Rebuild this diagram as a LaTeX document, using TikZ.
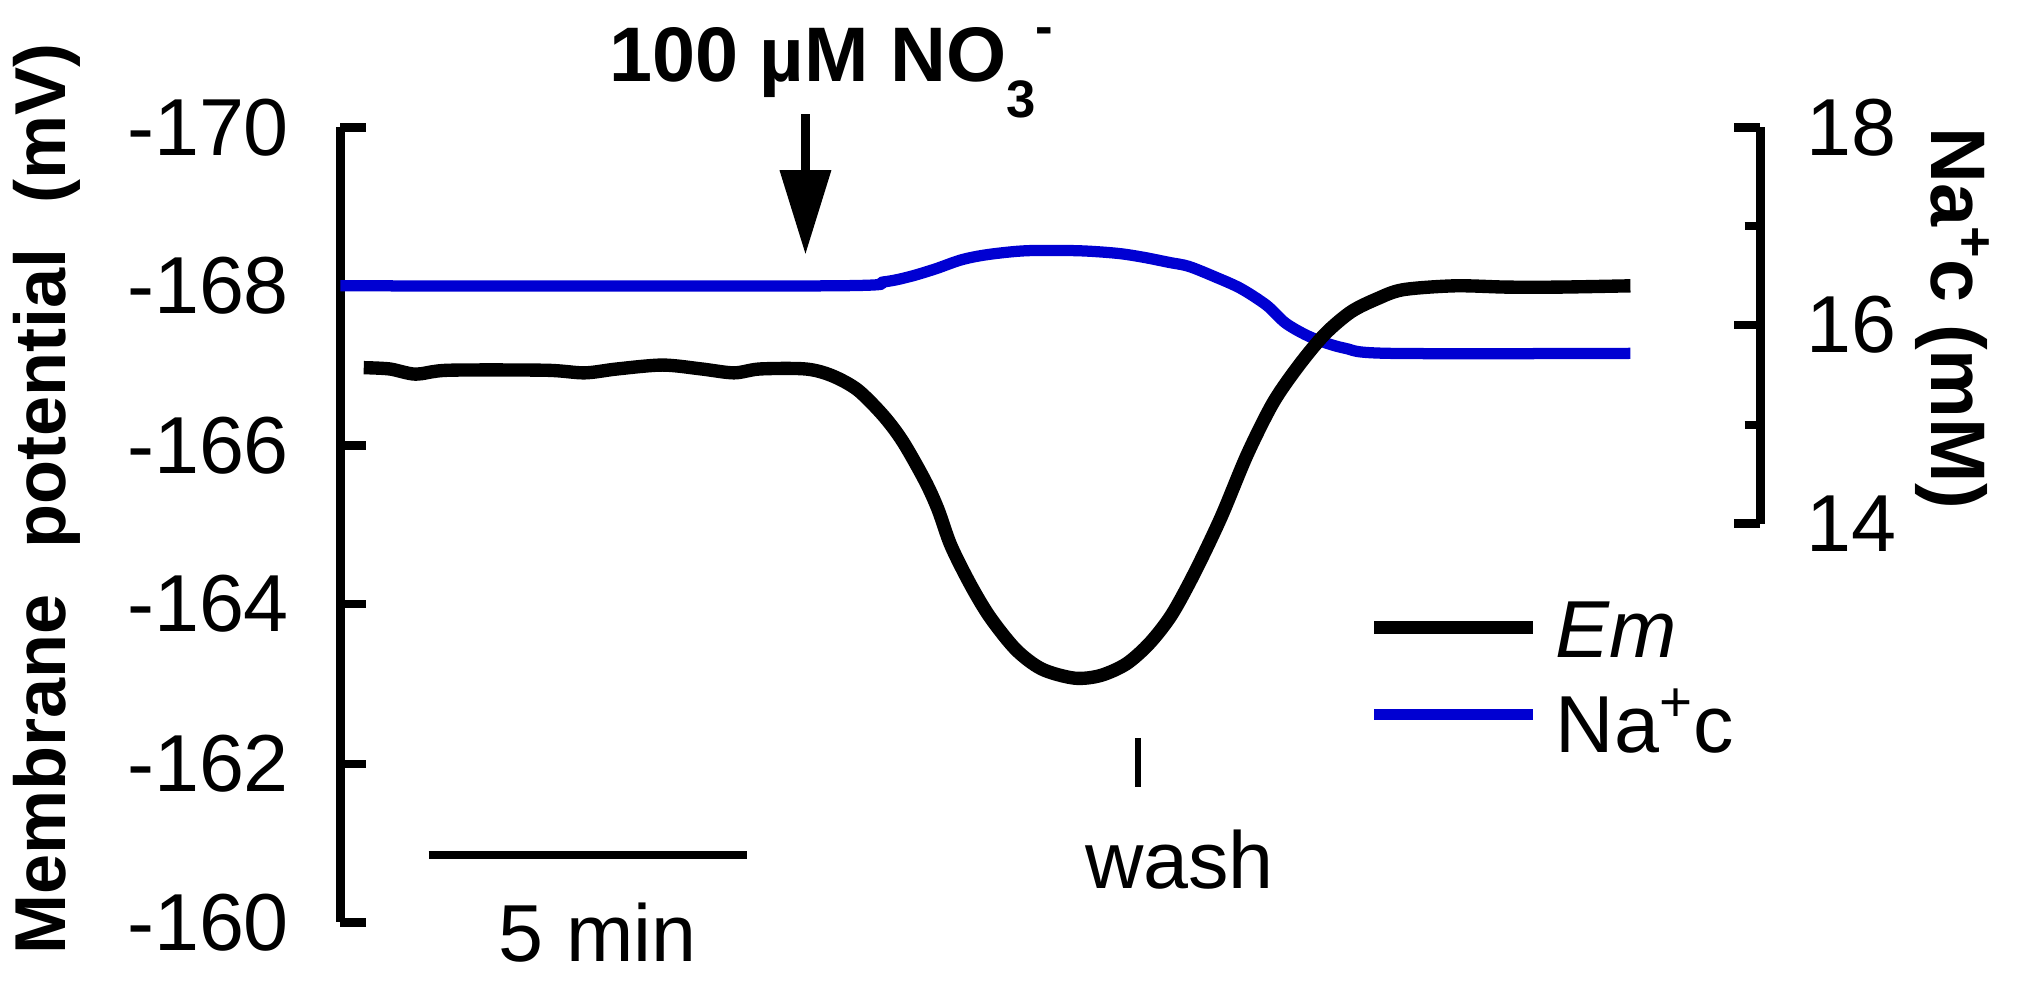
\documentclass[tikz,border=0pt]{standalone}
\usepackage{fontspec}
\setmainfont{Liberation Sans}
\usetikzlibrary{arrows.meta}
\definecolor{nablue}{RGB}{0,0,210}
\begin{document}
\begin{tikzpicture}[x=0.01299cm,y=-0.01299cm,
  ax/.style={line width=2.4pt},
  num/.style={font=\fontsize{23}{23}\selectfont},
  lab/.style={font=\fontsize{22}{22}\selectfont\bfseries},
  em/.style={line width=3.8pt,black,line join=round},
  na/.style={line width=3.2pt,nablue,line join=round}]
\useasboundingbox (0,0) rectangle (1568,762);
% left axis
\draw[ax] (262,98) -- (262,710);
\foreach \y/\t in {98/-170,220/-168,343/-166,465/-164,588/-162,710/-160}{
  \draw[ax] (262,\y) -- (282,\y);
  \node[num,anchor=east] (L\y) at (232,\y) {\t};}
\node[lab,rotate=90,font=\fontsize{20.5}{20.5}\selectfont\bfseries] (ylab) at (36,384) {Membrane\hspace{0.35em} potential\hspace{0.35em} (mV)};
% right axis
\draw[ax] (1355,98) -- (1355,403);
\foreach \y in {98,250,403}{\draw[ax] (1335,\y) -- (1355,\y);}
\foreach \y in {174,327}{\draw[ax] (1343,\y) -- (1355,\y);}
\foreach \y/\t in {98/18,250/16,403/14}{\node[num] (R\y) at (1425,\y) {\t};}
\node[lab,rotate=-90] (rlab) at (1503,245) {Na\textsuperscript{+}c (mM)};
% title and arrow
\node[lab] (title) at (640,56) {100 µM NO\raisebox{-0.9ex}{\fontsize{15}{15}\selectfont 3}\raisebox{0.9ex}{\fontsize{15}{15}\selectfont -}};
\coordinate (a1) at (620,88);
\coordinate (a2) at (620,196);
\draw[line width=2.6pt,-{Triangle[width=14pt,length=24pt]}] (a1) -- (a2);
% curves
\draw[na] plot[smooth,tension=0.5] coordinates {(262,220)(640,220)(680,217)(700,213)(720,207)(740,200)(760,196)(790,193)(830,193)(860,195)(880,198)(900,202)(915,205)(935,213)(955,222)(975,235)(990,249)(1010,260)(1035,268)(1070,272)(1255,272)};
\draw[em] plot[smooth,tension=0.5] coordinates {(280,283)(300,284)(320,288)(345,285)(420,285)(450,287)(475,284)(510,281)(540,284)(565,287)(585,284)(620,284)(640,289)(660,300)(680,320)(695,340)(712,370)(722,392)(732,420)(747,450)(762,475)(782,500)(802,515)(827,522)(847,520)(867,511)(885,495)(902,473)(920,440)(940,398)(960,350)(980,310)(1000,281)(1020,257)(1040,240)(1060,230)(1080,223)(1120,220)(1160,221)(1200,221)(1255,220)};
% legend
\draw[em] (1058,483) -- (1180,483);
\node[num,anchor=west] (lem) at (1188,485) {\itshape Em};
\draw[na] (1058,550) -- (1180,550);
\node[num,anchor=west] (lna) at (1188,555) {Na\textsuperscript{+}c};
% wash
\draw[line width=1.8pt] (876,568) -- (876,606);
\node[num] (wash) at (908,662) {wash};
% scale bar
\draw[ax] (330,658) -- (575,658);
\node[num] (smin) at (460,718) {5 min};
\end{tikzpicture}
\end{document}
